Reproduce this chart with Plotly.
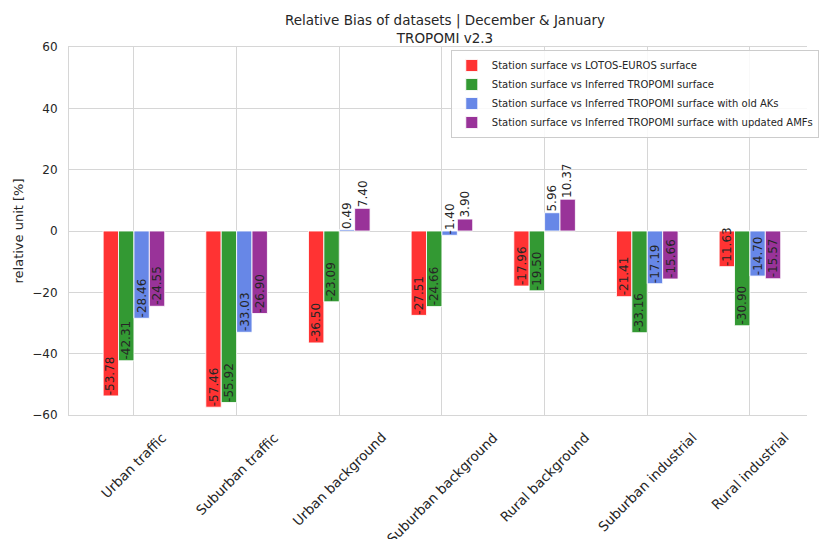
import plotly.graph_objects as go

# Station categories and relative bias (%) for each comparison
categories = ["Urban traffic", "Suburban traffic", "Urban background",
              "Suburban background", "Rural background",
              "Suburban industrial", "Rural industrial"]

series_names = [
    "Station surface vs LOTOS-EUROS surface",
    "Station surface vs Inferred TROPOMI surface",
    "Station surface vs Inferred TROPOMI surface with old AKs",
    "Station surface vs Inferred TROPOMI surface with updated AMFs",
]

lotos_euros = [-53.78, -57.46, -36.50, -27.51, -17.96, -21.41, -11.63]
inferred = [-42.31, -55.92, -23.09, -24.66, -19.50, -33.16, -30.90]
old_aks = [-28.46, -33.03, 0.49, -1.40, 5.96, -17.19, -14.70]
updated_amfs = [-24.55, -26.90, 7.40, 3.90, 10.37, -15.66, -15.57]

series_values = [lotos_euros, inferred, old_aks, updated_amfs]
colors = ["#ff3333", "#339933", "#6787e7", "#993399"]

y_ticks = [-60, -40, -20, 0, 20, 40, 60]

FONT = "DejaVu Sans"
TEXT = "#262626"
GRID = "#d6d6d6"

bar_width = 0.15
xpos = list(range(len(categories)))

fig = go.Figure()
for name, vals, col in zip(series_names, series_values, colors):
    fig.add_trace(go.Bar(
        x=xpos, y=vals, name=name,
        marker=dict(color=col, line=dict(color="rgba(255,255,255,0.85)", width=1)),
        width=bar_width,
    ))

annotations = []
# value labels, rotated, starting at the bar end
for j, vals in enumerate(series_values):
    off = (j - 1.5) * bar_width
    for i, v in enumerate(vals):
        annotations.append(dict(
            x=i + off, y=v, xref="x", yref="y",
            text=f"{v:.2f}", showarrow=False, textangle=-90,
            xanchor="center", yanchor="bottom", borderpad=0,
            font=dict(family=FONT, size=12, color=TEXT),
        ))

# category labels, rotated 45 degrees and centred under each group
for i, c in enumerate(categories):
    annotations.append(dict(
        x=i, y=0, xref="x", yref="paper",
        text=c, showarrow=False, textangle=-45,
        xanchor="center", yanchor="top", yshift=-13, borderpad=0,
        font=dict(family=FONT, size=13.5, color=TEXT),
    ))

fig.update_layout(
    width=819, height=539,
    margin=dict(l=69, r=0, t=47, b=124),
    paper_bgcolor="white", plot_bgcolor="white",
    barmode="group", bargap=0.4, bargroupgap=0,
    font=dict(family=FONT, color=TEXT),
    title=dict(
        text="Relative Bias of datasets | December &amp; January<br>TROPOMI v2.3",
        x=445 / 819, xanchor="center", y=1 - 25 / 539, yanchor="top",
        font=dict(family=FONT, size=13.5, color=TEXT),
    ),
    legend=dict(
        x=(457 - 69) / 750, xanchor="left", y=(415 - 50) / 368, yanchor="top",
        bgcolor="rgba(255,255,255,0.85)", bordercolor="#cccccc", borderwidth=1,
        font=dict(family=FONT, size=10, color=TEXT),
        itemwidth=30, tracegroupgap=0,
    ),
    annotations=annotations,
    showlegend=True,
)

fig.update_xaxes(
    range=[-0.6326, 6.556], tickvals=xpos, showticklabels=False,
    showgrid=True, gridcolor=GRID, gridwidth=1,
    showline=True, linecolor=GRID, linewidth=1, mirror=True,
    zeroline=False, ticks="",
)
fig.update_yaxes(
    range=[-60, 60], tickvals=y_ticks,
    showgrid=True, gridcolor=GRID, gridwidth=1,
    zeroline=True, zerolinecolor=GRID, zerolinewidth=1,
    showline=True, linecolor=GRID, linewidth=1, mirror=False,
    ticks="", ticklabelstandoff=8,
    tickfont=dict(family=FONT, size=12, color=TEXT),
    title=dict(text="relative unit [%]", standoff=5,
               font=dict(family=FONT, size=13, color=TEXT)),
)

fig.write_html("out.html")
